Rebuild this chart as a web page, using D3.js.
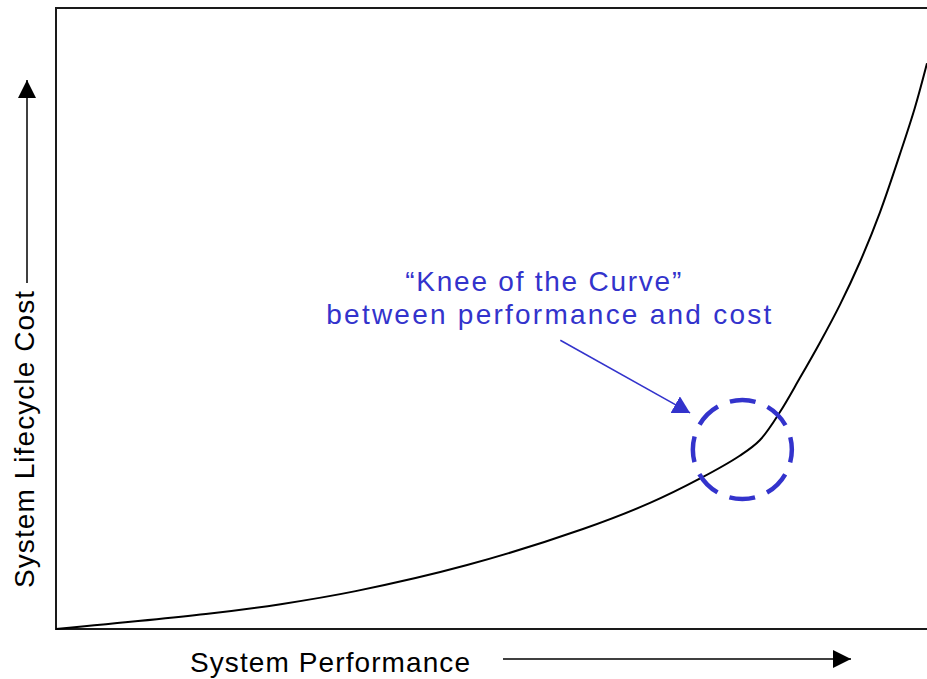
<!DOCTYPE html>
<html>
<head>
<meta charset="utf-8">
<script src="https://cdn.jsdelivr.net/npm/d3@7"></script>
<style>
  html, body { margin: 0; padding: 0; background: #fff; }
  svg { display: block; }
  text { font-family: "Liberation Sans", Arial, sans-serif; }
</style>
</head>
<body>
<svg id="chart" width="927" height="679"></svg>
<script>
// ---- Data (performance vs lifecycle cost, arbitrary 0-100 units) ----
const performance = [0, 17.2, 25.8, 34.4, 47.2, 60.5, 68.2, 73.9, 78.5, 80.8, 83.1, 85.4, 87.7, 90.0, 92.3, 94.6, 96.9, 98.6, 100];
const lifecycleCost = [0, 2.4, 4.0, 6.1, 10.3, 16.1, 20.3, 24.2, 27.9, 30.4, 34.9, 40.4, 46.1, 52.2, 59.1, 67.1, 76.5, 83.9, 91.1];

const xAxisLabel = "System Performance";
const yAxisLabel = "System Lifecycle Cost";
const annotationLines = ["\u201CKnee of the Curve\u201D", "between performance and cost"];

// annotation anchors in data units
const kneePoint = [78.8, 28.9];
const arrowStart = [57.9, 46.5];
const arrowEnd = [72.8, 34.8];
const annotationAnchor = [56.4, 54.5];

// ---- Layout ----
const svg = d3.select("#chart");
const pLeft = 56, pTop = 8, pRight = 927, pBottom = 629;
const x = d3.scaleLinear().domain([0, 100]).range([pLeft, pRight]);
const y = d3.scaleLinear().domain([0, 100]).range([pBottom, pTop]);

const blue = "#3333cc";
const fontSize = 28;

const defs = svg.append("defs");
defs.append("marker").attr("id", "headBlack")
  .attr("viewBox", "0 0 10 10").attr("refX", 10).attr("refY", 5)
  .attr("markerUnits", "userSpaceOnUse")
  .attr("markerWidth", 18).attr("markerHeight", 18)
  .attr("orient", "auto")
  .append("path").attr("d", "M0,0 L10,5 L0,10 Z").attr("fill", "#000");
defs.append("marker").attr("id", "headBlue")
  .attr("viewBox", "0 0 10 10").attr("refX", 10).attr("refY", 5)
  .attr("markerUnits", "userSpaceOnUse")
  .attr("markerWidth", 17).attr("markerHeight", 19)
  .attr("orient", "auto")
  .attr("preserveAspectRatio", "none")
  .append("path").attr("d", "M0,0 L10,5 L0,10 Z").attr("fill", blue);

// Frame (right side runs off the picture)
svg.append("path")
  .attr("d", `M${pRight + 5},${pTop} L${pLeft},${pTop} L${pLeft},${pBottom} L${pRight + 5},${pBottom}`)
  .attr("fill", "none").attr("stroke", "#1a1a1a").attr("stroke-width", 2);

// Curve
const pts = performance.map((p, i) => [p, lifecycleCost[i]]);
const line = d3.line().x(d => x(d[0])).y(d => y(d[1])).curve(d3.curveCatmullRom.alpha(0.5));
svg.append("path").datum(pts)
  .attr("d", line)
  .attr("fill", "none").attr("stroke", "#000").attr("stroke-width", 2);

// Dashed knee circle
const r = 49.5;
const circ = 2 * Math.PI * r;
const period = circ / 8;
svg.append("circle")
  .attr("cx", x(kneePoint[0])).attr("cy", y(kneePoint[1])).attr("r", r)
  .attr("fill", "none").attr("stroke", blue).attr("stroke-width", 4.5)
  .attr("stroke-dasharray", `26 ${period - 26}`)
  .attr("stroke-dashoffset", 13);

// Annotation arrow
svg.append("line")
  .attr("x1", x(arrowStart[0])).attr("y1", y(arrowStart[1]))
  .attr("x2", x(arrowEnd[0])).attr("y2", y(arrowEnd[1]))
  .attr("stroke", blue).attr("stroke-width", 1.5)
  .attr("marker-end", "url(#headBlue)");

// Annotation text
const ax = x(annotationAnchor[0]), ay = y(annotationAnchor[1]);
svg.append("text").attr("x", ax - 4).attr("y", ay)
  .attr("text-anchor", "middle").attr("fill", blue)
  .attr("font-size", fontSize).attr("textLength", 276).attr("lengthAdjust", "spacing")
  .text(annotationLines[0]);
svg.append("text").attr("x", ax + 1.5).attr("y", ay + 33)
  .attr("text-anchor", "middle").attr("fill", blue)
  .attr("font-size", fontSize).attr("textLength", 445).attr("lengthAdjust", "spacing")
  .text(annotationLines[1]);

// X axis label + arrow
svg.append("text").attr("x", 190).attr("y", 672)
  .attr("fill", "#000").attr("font-size", fontSize)
  .attr("textLength", 280).attr("lengthAdjust", "spacing")
  .text(xAxisLabel);
svg.append("line")
  .attr("x1", 503).attr("y1", 659).attr("x2", 851).attr("y2", 659)
  .attr("stroke", "#000").attr("stroke-width", 1.5)
  .attr("marker-end", "url(#headBlack)");

// Y axis label + arrow
svg.append("text")
  .attr("transform", "translate(34,588) rotate(-90)")
  .attr("fill", "#000").attr("font-size", fontSize)
  .attr("textLength", 297).attr("lengthAdjust", "spacing")
  .text(yAxisLabel);
svg.append("line")
  .attr("x1", 27).attr("y1", 283).attr("x2", 27).attr("y2", 80)
  .attr("stroke", "#000").attr("stroke-width", 1.5)
  .attr("marker-end", "url(#headBlack)");
</script>
</body>
</html>
